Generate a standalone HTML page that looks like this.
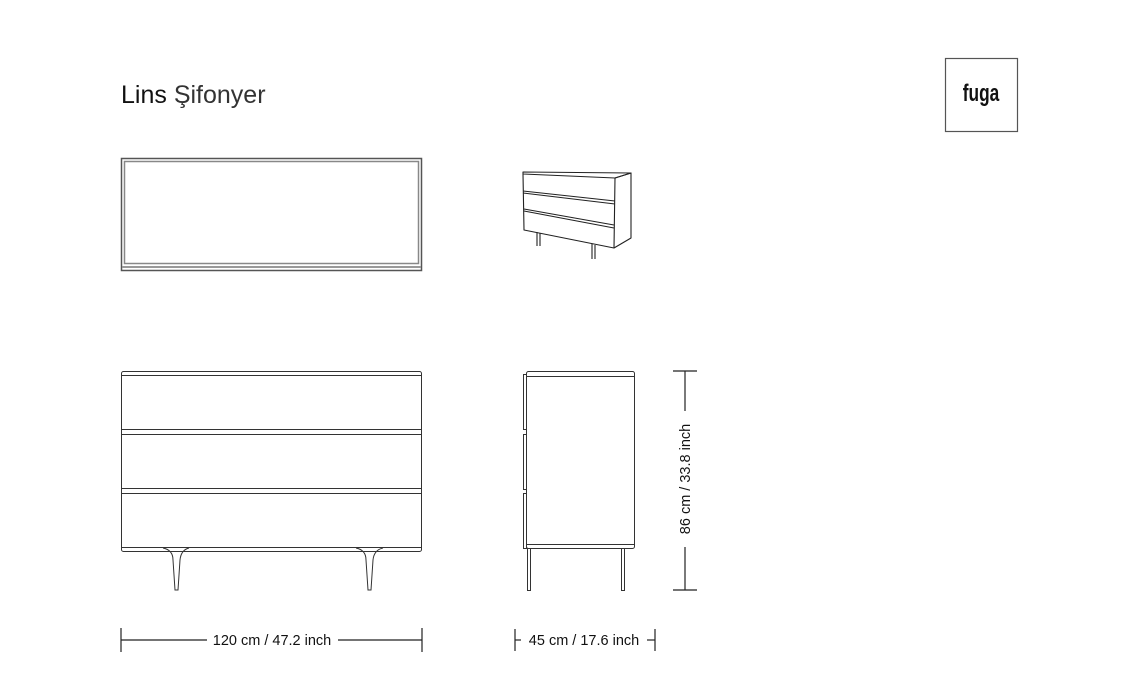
<!DOCTYPE html>
<html><head><meta charset="utf-8"><style>
html,body{margin:0;padding:0;background:#fff;width:1138px;height:700px;overflow:hidden}
svg{display:block}
text{font-family:"Liberation Sans",sans-serif;fill:#111}
</style></head><body>
<svg width="1138" height="700" viewBox="0 0 1138 700" xmlns="http://www.w3.org/2000/svg">
<text x="121" y="103" font-size="25" fill="#111">Lins <tspan fill="#333">Şifonyer</tspan></text>
<rect x="945.5" y="58.5" width="72" height="73" fill="none" stroke="#555" stroke-width="1.2"/>
<text x="0" y="0" font-size="24" font-weight="bold" text-anchor="middle" transform="translate(981 101) scale(0.72 1)">fuga</text>

<!-- top view -->
<g fill="none" stroke="#555">
<rect x="121.5" y="158.5" width="300" height="112" stroke-width="1.5"/>
<rect x="124.5" y="161.5" width="294" height="102" stroke="#888" stroke-width="1.5"/>
<line x1="122" y1="267" x2="421" y2="267" stroke="#999" stroke-width="2"/>
</g>

<!-- perspective -->
<g fill="none" stroke="#222" stroke-width="1.1" stroke-linejoin="round">
<path d="M523 172 L631 173 L615 178 L523 174 Z"/>
<path d="M523 174 L524 230 L614 248 L615 178"/>
<path d="M615 178 L631 173 L631 238 L614 248"/>
<path d="M523 191 L615 201 M523 193 L615 204"/>
<path d="M524 209 L614 225 M524 211 L614 228"/>
<path d="M537 232 L537 246 M540 233 L540 246"/>
<path d="M592 244 L592 259 M595 245 L595 259"/>
</g>

<!-- front view -->
<g fill="none" stroke="#333" stroke-width="1">
<rect x="121.5" y="371.5" width="300" height="180" rx="2"/>
<line x1="122" y1="375.5" x2="421" y2="375.5"/>
<line x1="122" y1="429.5" x2="421" y2="429.5"/>
<line x1="122" y1="434.5" x2="421" y2="434.5"/>
<line x1="122" y1="488.5" x2="421" y2="488.5"/>
<line x1="122" y1="493.5" x2="421" y2="493.5"/>
<line x1="122" y1="547.5" x2="421" y2="547.5"/>
<path d="M163 548 Q173 550 173 560 L175 590 L178 590 L180 560 Q181 550 189 548"/>
<path d="M356 548 Q366 550 366 560 L368 590 L371 590 L373 560 Q374 550 383 548"/>
</g>

<!-- side view -->
<g fill="none" stroke="#333" stroke-width="1">
<rect x="526.5" y="371.5" width="108" height="177" rx="2"/>
<line x1="527" y1="376.5" x2="634" y2="376.5"/>
<line x1="527" y1="544.5" x2="634" y2="544.5"/>
<rect x="523.5" y="374.5" width="3" height="55"/>
<rect x="523.5" y="434.5" width="3" height="55"/>
<rect x="523.5" y="493.5" width="3" height="55"/>
<rect x="527.5" y="548.5" width="3" height="42"/>
<rect x="621.5" y="548.5" width="3" height="42"/>
</g>

<!-- dims -->
<g stroke="#222" stroke-width="1.2" fill="none">
<line x1="685" y1="371" x2="685" y2="411"/>
<line x1="685" y1="547" x2="685" y2="590"/>
<line x1="673" y1="371" x2="697" y2="371"/>
<line x1="673" y1="590" x2="697" y2="590"/>
<line x1="121" y1="640" x2="207" y2="640"/>
<line x1="338" y1="640" x2="422" y2="640"/>
<line x1="121" y1="628" x2="121" y2="652"/>
<line x1="422" y1="628" x2="422" y2="652"/>
<line x1="515" y1="640" x2="521" y2="640"/>
<line x1="647" y1="640" x2="655" y2="640"/>
<line x1="515" y1="629" x2="515" y2="651"/>
<line x1="655" y1="629" x2="655" y2="651"/>
</g>
<text x="272" y="645" font-size="14.5" text-anchor="middle">120 cm / 47.2 inch</text>
<text x="584" y="645" font-size="14.5" text-anchor="middle">45 cm / 17.6 inch</text>
<text x="0" y="0" font-size="14.5" text-anchor="middle" transform="translate(690 479) rotate(-90)">86 cm / 33.8 inch</text>
</svg>
</body></html>
